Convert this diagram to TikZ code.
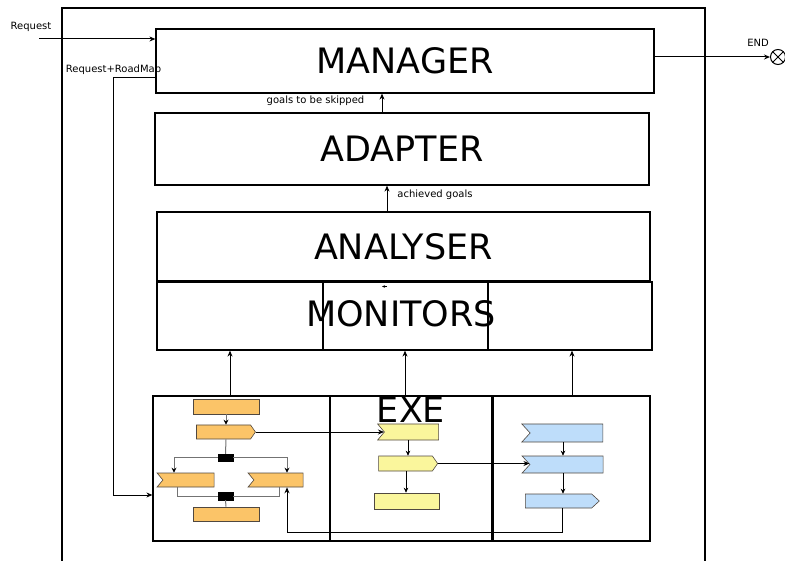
\documentclass[tikz,border=0pt]{standalone}
\usepackage{fontspec}
\setmainfont{DejaVu Sans}
\usetikzlibrary{shapes.symbols,arrows.meta}
\definecolor{orangefill}{RGB}{251,196,104}
\definecolor{yellowfill}{RGB}{250,246,156}
\definecolor{bluefill}{RGB}{190,221,250}
\definecolor{shapeedge}{RGB}{80,72,64}
\tikzset{
  big/.style={draw, line width=1.2pt, inner sep=0pt, font=\fontsize{35}{40}\selectfont},
  exebox/.style={draw, line width=1.2pt, inner sep=0pt},
  lab/.style={font=\fontsize{10}{12}\selectfont, inner sep=0pt},
  arr/.style={line width=1pt, -{Stealth[length=6pt,width=5pt]}},
  fa/.style={line width=0.7pt, -{Stealth[length=5pt,width=4.5pt]}},
  gl/.style={line width=1pt, draw=black!55},
  gla/.style={gl, -{Stealth[length=5pt,width=5pt,color=black]}},
  fbox/.style={draw=shapeedge, line width=0.6pt, inner sep=0pt},
  sigout/.style={fbox, shape=signal, signal to=east, signal from=nowhere, signal pointer angle=110},
  sigin/.style={fbox, shape=signal, signal from=west, signal to=nowhere, signal pointer angle=100},
  bar/.style={fill=black, draw=black, inner sep=0pt, minimum width=15pt, minimum height=7pt},
}
\begin{document}
\begin{tikzpicture}[x=1pt,y=-1pt]
\useasboundingbox (0,0) rectangle (785,561);
% outer frame
\draw[line width=1.2pt] (62,561) -- (62,8) -- (705,8) -- (705,561);

% main boxes
\node[big, minimum width=498pt, minimum height=64pt] (manager) at (405,61) {MANAGER};
\node[big, minimum width=494pt, minimum height=72pt] (adapter) at (402,149) {ADAPTER};
\node[big, minimum width=493pt, minimum height=69pt] (analyser) at (403.5,246.5) {ANALYSER};
\node[big, minimum width=495pt, minimum height=68pt] (monitors) at (404.5,316) {};
\draw[line width=1.2pt] (monitors.north -| 323,0) -- (monitors.south -| 323,0);
\draw[line width=1.2pt] (monitors.north -| 488,0) -- (monitors.south -| 488,0);
\node[font=\fontsize{35}{40}\selectfont, inner sep=0pt] (montext) at (401,314) {MONITORS};

% exe boxes
\node[exebox, minimum width=177pt, minimum height=145pt] (exe1) at (241.5,468.5) {};
\node[exebox, minimum width=162pt, minimum height=145pt] (exe2) at (411,468.5) {};
\node[exebox, minimum width=157pt, minimum height=145pt] (exe3) at (571.5,468.5) {};
\node[font=\fontsize{35}{40}\selectfont, inner sep=0pt] (exetext) at (411,409.5) {EXE};

% request
\coordinate (reqstart) at (39,39);
\node[lab] (reqlab) at (31,27) {Request};
\draw[arr] (reqstart) -- (reqstart -| manager.west);
% request+roadmap
\coordinate (rm1) at (113,78);
\coordinate (rm2) at (113,495);
\node[lab] (rmlab) at (113.5,70) {Request+RoadMap};
\draw[arr] (rm1 -| manager.west) -- (rm1) -- (rm2) -- (rm2 -| exe1.west);
% END
\node[circle, draw, line width=1pt, minimum size=15pt, inner sep=0pt,
  path picture={\draw[line width=1pt] (path picture bounding box.north west) -- (path picture bounding box.south east)
  (path picture bounding box.north east) -- (path picture bounding box.south west);}] (endc) at (778,57) {};
\node[lab] (endlab) at (758,43) {END};
\draw[arr] (manager.east |- endc) -- (endc.west);

% adapter -> manager
\coordinate (gs) at (382,0);
\draw[arr] (adapter.north -| gs) -- (manager.south -| gs);
\node[lab] (gslab) at (315.5,101) {goals to be skipped};
% analyser -> adapter
\coordinate (ag) at (387,0);
\draw[arr] (analyser.north -| ag) -- (adapter.south -| ag);
\node[lab] (aglab) at (435,195) {achieved goals};
% tiny tick
\coordinate (tk1) at (387,286.5);
\coordinate (tk2) at (382,286.5);
\draw[-{Stealth[length=3pt,width=2.5pt]}, line width=0.6pt] (tk1) -- (tk2);

% exe -> monitors
\foreach \xx/\bx in {230/exe1, 405/exe2, 572/exe3}{
  \draw[arr] (\bx.north -| \xx,0) -- (monitors.south -| \xx,0);
}

% box 1 flow
\node[fbox, fill=orangefill, minimum width=66pt, minimum height=15pt] (A) at (226,406.5) {};
\node[sigout, fill=orangefill, minimum width=59pt, minimum height=14pt] (B) at (223.5,432) {};
\node[bar] (bar1) at (225.5,457.5) {};
\node[sigin, fill=orangefill, minimum width=57pt, minimum height=14pt] (C) at (188.5,480) {};
\node[sigin, fill=orangefill, minimum width=55pt, minimum height=14pt] (D) at (278.5,480) {};
\node[bar, minimum height=8pt] (bar2) at (225.5,496) {};
\node[fbox, fill=orangefill, minimum width=66pt, minimum height=14pt] (E) at (226,514) {};

\draw[gla] (A.south) -- (A.south |- B.north);
\draw[gl] (B.south -| A.south) -- (bar1.north);
\draw[gla] (bar1.west) -| ([xshift=-14.5pt]C.north);
\draw[gla] (bar1.east) -| ([xshift=8.5pt]D.north);
\draw[gl] ([xshift=-11.5pt]C.south) |- (bar2.west);
\draw[gl] ([xshift=0.5pt]D.south) |- (bar2.east);
\draw[gl] (bar2.south) -- (E.north);

% box 2 flow
\node[sigin, fill=yellowfill, minimum width=61pt, minimum height=16pt] (F) at (411.5,432) {};
\node[sigout, fill=yellowfill, minimum width=59pt, minimum height=15pt] (G) at (405.5,463.5) {};
\node[fbox, fill=yellowfill, minimum width=65pt, minimum height=16pt] (I) at (406.5,501) {};
\draw[fa] (F.south -| 408,0) -- (G.north -| 408,0);
\draw[fa] (G.south -| 406,0) -- (I.north -| 406,0);

% box 3 flow
\node[sigin, fill=bluefill, minimum width=81pt, minimum height=18pt, signal pointer angle=95] (J) at (566.5,433) {};
\node[sigin, fill=bluefill, minimum width=81pt, minimum height=17pt, signal pointer angle=95] (K) at (566.5,464.5) {};
\node[sigout, fill=bluefill, minimum width=74pt, minimum height=14pt, signal pointer angle=85] (L) at (558.5,501) {};
\draw[fa] (J.south -| 563,0) -- (K.north -| 563,0);
\draw[fa] (K.south -| 563,0) -- (L.north -| 563,0);

% cross-box connectors
\draw[arr] (B.east) -- (B.east -| F.west);
\draw[arr] (G.east) -- (G.east -| K.west);
\coordinate (fb) at (0,532);
\draw[arr] (L.south -| 562,0) -- (562,532) -| ([xshift=8.5pt]D.south);
\end{tikzpicture}
\end{document}
